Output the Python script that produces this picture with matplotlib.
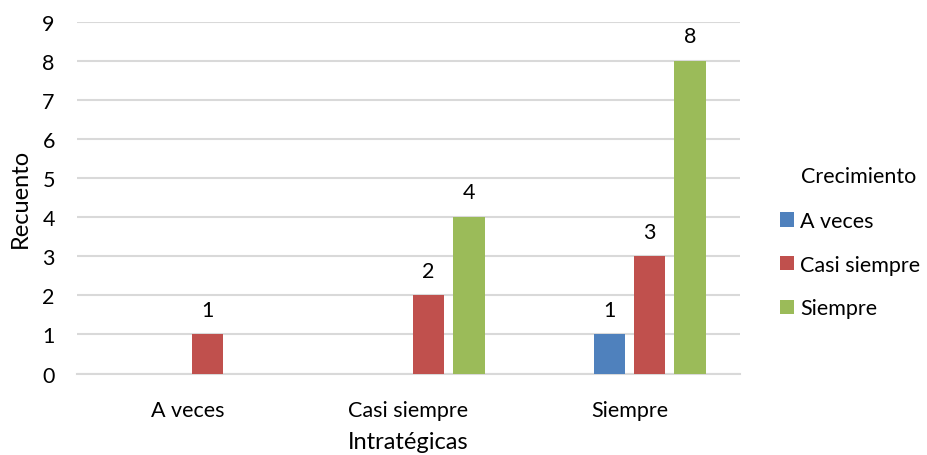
import matplotlib.pyplot as plt
from matplotlib.patches import Patch
import numpy as np

plt.rcParams['font.family'] = ['Lato', 'DejaVu Sans']

# data
categorias = ['A veces', 'Casi siempre', 'Siempre']
series = ['A veces', 'Casi siempre', 'Siempre']
a_veces = [0, 0, 1]
casi_siempre = [1, 2, 3]
siempre = [0, 4, 8]

colores = ['#4F81BD', '#C0504D', '#9BBB59']
GRID = '#D9D9D9'
FS = 15.5

fig = plt.figure(figsize=(9.27, 4.56), dpi=100)
fig.patch.set_facecolor('white')
ax = fig.add_axes([0.0831, 0.1787, 0.7152, 0.7719])

x = np.arange(len(categorias))
pitch = 0.1824
width = 0.1425
offsets = [-0.5 * pitch, 0.5 * pitch, 1.5 * pitch]

for vals, off, col in zip([a_veces, casi_siempre, siempre], offsets, colores):
    bars = ax.bar(x + off, vals, width=width, color=col, zorder=3, linewidth=0)
    for b, v in zip(bars, vals):
        if v == 0:
            continue
        ax.annotate(str(v), (b.get_x() + b.get_width() / 2, v),
                    xytext=(0, 10.5), textcoords='offset points',
                    ha='center', va='bottom', fontsize=FS, color='#000000')

ax.set_xlim(-0.5, 2.5)
ax.set_ylim(0, 9)
ax.set_yticks(range(0, 10))
ax.set_xticks(x)
ax.set_xticklabels(categorias)
ax.yaxis.grid(True, color=GRID, linewidth=1.5, zorder=0)
ax.tick_params(axis='both', length=0, labelsize=FS, colors='#000000')
ax.tick_params(axis='y', pad=16)
ax.tick_params(axis='x', pad=19)
for s in ['top', 'right', 'left']:
    ax.spines[s].set_visible(False)
ax.spines['bottom'].set_color(GRID)
ax.spines['bottom'].set_linewidth(1.5)

ax.set_ylabel('Recuento', fontsize=17, labelpad=8)
ax.set_xlabel('Intratégicas', fontsize=17, labelpad=8)

# legend
fig.text(801 / 927, 1 - 177 / 456, 'Crecimiento', fontsize=FS,
         ha='left', va='center')
handles = [Patch(facecolor=c, edgecolor='none') for c in colores]
fig.legend(handles, series, loc='upper left',
           bbox_to_anchor=(780 / 927, 1 - 212 / 456), frameon=False,
           fontsize=FS, handlelength=0.65, handleheight=0.65,
           handletextpad=0.3, labelspacing=1.1, borderpad=0,
           borderaxespad=0)

fig.savefig('out.png', dpi=100, facecolor='white')
